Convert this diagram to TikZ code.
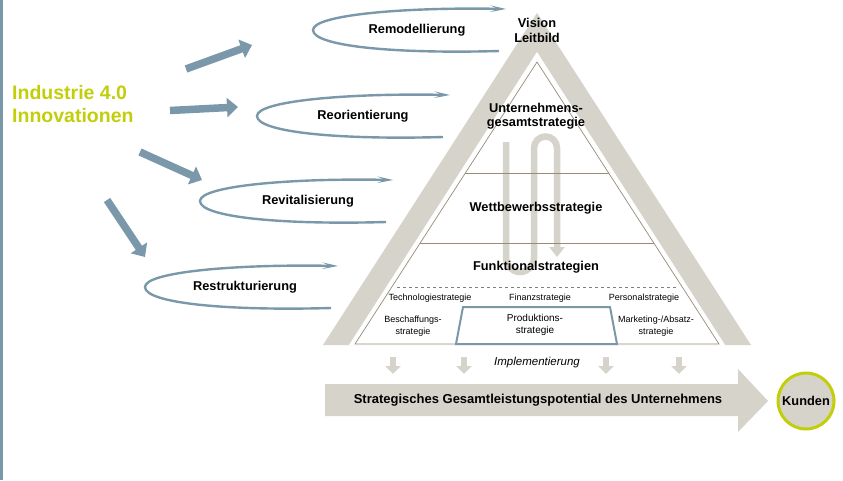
\documentclass[tikz,border=0pt]{standalone}
\usepackage{fontspec}
\setmainfont{Liberation Sans}
\usetikzlibrary{arrows.meta}
\definecolor{bandgrey}{HTML}{D6D3CA}
\definecolor{linebrown}{HTML}{968C78}
\definecolor{steelblue}{HTML}{7B98AA}
\definecolor{limegreen}{HTML}{C2CE0A}
\tikzset{
  lbl/.style={font=\fontsize{12.8}{14.5}\selectfont\bfseries, align=center, inner sep=0pt},
  sml/.style={font=\fontsize{9}{11.5}\selectfont, align=center, inner sep=0pt},
  loopline/.style={draw=steelblue, line width=2.4pt, -{Stealth[length=14pt,width=5pt]}},
  fatarrow/.style={draw=steelblue, line width=7.5pt, -{Triangle[length=11pt,width=19pt]}},
  downarrow/.style={draw=bandgrey, line width=6pt, -{Triangle[length=8pt,width=15pt]}},
}
\begin{document}
\begin{tikzpicture}[x=1pt,y=-1pt]
\useasboundingbox (0,0) rectangle (843,480);
\draw[steelblue, line width=3pt] (1.5,0) -- (1.5,480);
% pyramid
\fill[bandgrey] (537,13) -- (751,345) -- (323,345) -- cycle;
\fill[white] (537,52) -- (725,345) -- (349,345) -- cycle;
\draw[bandgrey, line width=6.5pt, -{Triangle[length=10pt,width=15pt]}]
  (506,142) -- (506,258) .. controls (506,265.7) and (512.3,272) .. (520,272)
  .. controls (527.7,272) and (534,265.7) .. (534,258) -- (534,148)
  .. controls (534,141.6) and (539.2,136.5) .. (545.5,136.5)
  .. controls (551.9,136.5) and (557,141.6) .. (557,148) -- (557,257);
\draw[linebrown, line width=0.7pt] (537,62) -- (719,344) -- (355,344) -- cycle;
\draw[linebrown, line width=0.7pt] (465,173) -- (609,173);
\draw[linebrown, line width=0.7pt] (420,243) -- (654,243);
\draw[gray, line width=0.5pt, dash pattern=on 3pt off 3pt] (397,287) -- (677,287);
\draw[steelblue, line width=2pt] (463,307) -- (610,307) -- (617,344) -- (456,344) -- cycle;
\node[lbl] (vision) at (537,30.5) {Vision\\Leitbild};
\node[lbl] (ugs) at (536,116) {Unternehmens-\\gesamtstrategie};
\node[lbl] (wbs) at (536,208) {Wettbewerbsstrategie};
\node[lbl] (fks) at (536,267) {Funktionalstrategien};
\foreach \x/\l/\n in {430/Technologiestrategie/tech, 540/Finanzstrategie/fin, 644/Personalstrategie/pers}
  \node[sml] (\n) at (\x,298) {\l};
\node[sml] (besch) at (413,326) {Beschaffungs-\\strategie};
\node[sml, font=\fontsize{10}{12.5}\selectfont] (prod) at (535,325) {Produktions-\\strategie};
\node[sml] (mark) at (656,326) {Marketing-/Absatz-\\strategie};
% implementation
\node[inner sep=0pt, font=\fontsize{11.5}{13}\selectfont\itshape] (impl) at (537,363) {Implementierung};
\foreach \x [count=\i] in {393,464,606,679} {
  \coordinate (d\i) at (\x,357);
  \coordinate (f\i) at (\x,374);
  \draw[downarrow] (d\i) -- (f\i);
}
\fill[bandgrey] (325,384) -- (738,384) -- (738,369) -- (768,401) -- (738,432) -- (738,416) -- (325,416) -- cycle;
\node[lbl, font=\fontsize{13}{15}\selectfont\bfseries] (sgp) at (538,400) {Strategisches Gesamtleistungspotential des Unternehmens};
\node[lbl, circle, draw=limegreen, fill=bandgrey, line width=3pt, minimum size=56pt] (kunden) at (806,401) {Kunden};
% innovations
\node[anchor=west, align=left, inner sep=0pt, text=limegreen, font=\fontsize{19.5}{23}\selectfont\bfseries] (ind) at (12,104.4) {Industrie 4.0\\Innovationen};
\foreach \sx/\sy/\ex/\ey [count=\i] in {186/69/252/45, 170/110.5/238/107, 140/152/202/180, 107/200/145/257} {
  \coordinate (s\i) at (\sx,\sy);
  \coordinate (e\i) at (\ex,\ey);
  \draw[fatarrow] (s\i) -- (e\i);
}
\foreach \lx/\ly/\txt/\tx/\n in {313/30/Remodellierung/417/remo, 257/116/Reorientierung/363/reor, 200/201/Revitalisierung/308/revi, 145/287/Restrukturierung/245/rest} {
  \node[lbl] (\n) at (\tx,\ly) {\txt};
  \draw[loopline] (\lx+186,\ly+21) .. controls (\lx+80,\ly+24) and (\lx,\ly+16) .. (\lx,\ly)
    .. controls (\lx,\ly-15) and (\lx+90,\ly-23) .. (\lx+194,\ly-21);
}
\end{tikzpicture}
\end{document}
